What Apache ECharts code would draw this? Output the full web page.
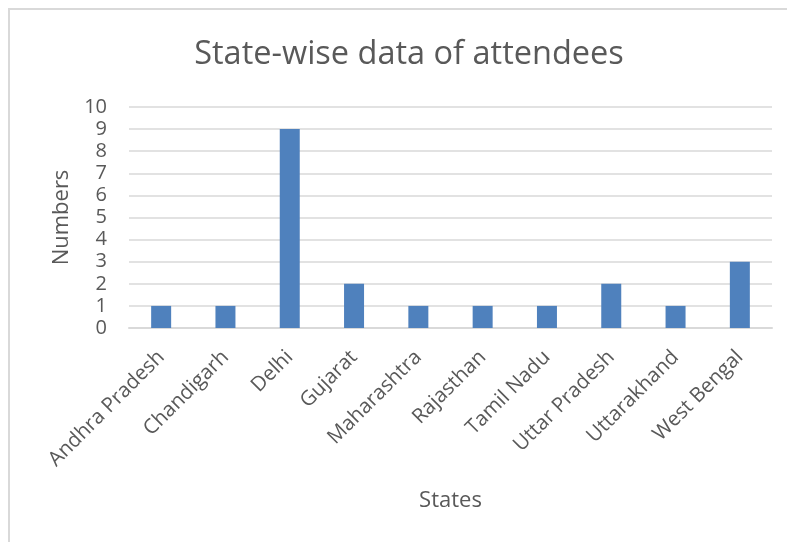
<!DOCTYPE html>
<html>
<head>
<meta charset="utf-8">
<script src="https://cdn.jsdelivr.net/npm/echarts@6/dist/echarts.min.js"></script>
<style>
html,body{margin:0;padding:0;background:#fff;}
#frame{position:absolute;left:8px;top:8px;width:800px;height:560px;border-left:2px solid #d9d9d9;border-top:2px solid #d9d9d9;box-sizing:border-box;}
#chart{position:absolute;left:0;top:0;width:787px;height:542px;}
</style>
</head>
<body>
<div id="frame"></div>
<div id="chart"></div>
<script>
const titleText = "State-wise data of attendees";
const xAxisTitle = "States";
const yAxisTitle = "Numbers";
const states = ["Andhra Pradesh","Chandigarh","Delhi","Gujarat","Maharashtra","Rajasthan","Tamil Nadu","Uttar Pradesh","Uttarakhand","West Bengal"];
const attendees = [1,1,9,2,1,1,1,2,1,3];
const yMin = 0, yMax = 10, yStep = 1;

const FONT = "'Open Sans', sans-serif";
const chart = echarts.init(document.getElementById('chart'), null, {renderer:'canvas'});
chart.setOption({
  animation:false,
  backgroundColor:'transparent',
  title:{
    text:titleText, left:404, textAlign:'center', top:33,
    textStyle:{fontFamily:FONT,fontSize:32.5,fontWeight:'normal',color:'#595959'}
  },
  grid:{left:129,right:15,top:107,bottom:214,containLabel:false},
  xAxis:{
    type:'category', data:states,
    name:xAxisTitle, nameLocation:'middle', nameGap:162,
    nameTextStyle:{fontFamily:FONT,fontSize:22,color:'#595959'},
    axisLine:{show:true,lineStyle:{color:'#d9d9d9',width:2}},
    axisTick:{show:false},
    axisLabel:{rotate:45,interval:0,margin:26,fontFamily:FONT,fontSize:20.5,color:'#595959'}
  },
  yAxis:{
    type:'value', min:yMin, max:yMax, interval:yStep,
    name:yAxisTitle, nameLocation:'middle', nameGap:56,
    nameTextStyle:{fontFamily:FONT,fontSize:22,color:'#595959'},
    axisLine:{show:false}, axisTick:{show:false},
    axisLabel:{margin:22,fontFamily:FONT,fontSize:20,color:'#595959'},
    splitLine:{lineStyle:{color:'#d9d9d9',width:1.5}}
  },
  series:[{
    type:'bar', data:attendees, barWidth:20,
    itemStyle:{color:'#4f81bd'}
  }]
});
</script>
</body>
</html>
